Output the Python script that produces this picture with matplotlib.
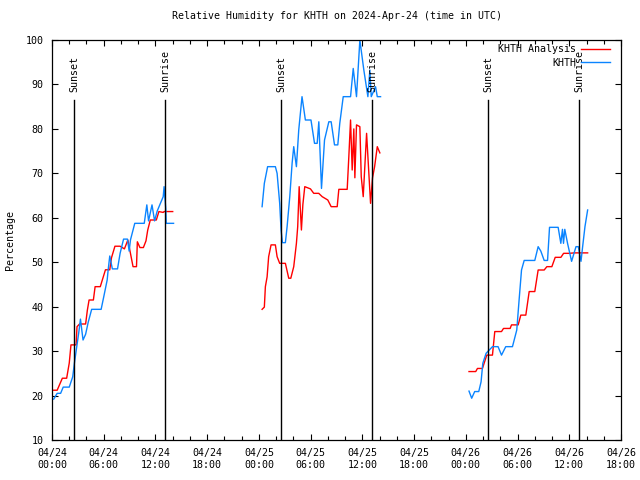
import matplotlib
matplotlib.use("Agg")
import matplotlib.pyplot as plt
import matplotlib.dates as mdates
import pandas as pd

# hours after 2024-04-24 00:00 UTC, relative humidity (%)
base = pd.Timestamp("2024-04-24 00:00")

analysis_hours = [
    [0.2, 0.6, 1.2, 1.7, 2.0, 2.2, 2.8, 2.9, 3.2, 3.9, 4.1, 4.3, 4.8, 5.0, 5.6, 5.9,
     6.2, 6.7, 6.9, 7.3, 7.9, 8.4, 8.8, 9.4, 9.8, 9.9, 10.2, 10.6, 10.9, 11.1, 11.4,
     12.1, 12.4, 12.9, 13.0, 14.0],
    [24.37, 24.63, 24.75, 24.95, 25.13, 25.41, 25.91, 26.11, 26.41, 27.07, 27.46, 27.7,
     28.04, 28.35, 28.5, 28.67, 28.93, 29.1, 29.32, 29.98, 30.36, 30.94, 31.34, 31.99,
     32.38, 33.08, 33.27, 34.24, 34.43, 34.63, 34.82, 35.01, 35.13, 35.32, 35.71, 35.87,
     36.1, 36.49, 36.95, 37.18, 37.42, 37.73, 38.03],
    [48.37, 49.15, 49.35, 49.93, 50.12, 50.43, 51.09, 51.36, 52.14, 52.37, 53.14, 53.3,
     54.07, 54.38, 54.96, 55.35, 56.0, 56.39, 57.09, 57.4, 57.98, 58.37, 59.03, 59.34,
     59.99, 60.57, 62.13],
]
analysis_rh = [
    [21.2, 21.2, 23.9, 23.9, 27.3, 31.4, 31.4, 35.5, 36.1, 36.1, 39.2, 41.5, 41.5, 44.5,
     44.5, 46.4, 48.3, 48.3, 51.0, 53.6, 53.6, 53.0, 55.0, 49.0, 49.0, 54.6, 53.3, 53.3,
     54.8, 57.2, 59.5, 59.5, 61.4, 61.2, 61.4, 61.4],
    [39.4, 39.9, 44.5, 46.7, 51.25, 53.9, 53.9, 51.25, 49.75, 49.75, 46.4, 46.4, 49.0,
     54.25, 58.0, 67.0, 57.25, 63.0, 67.0, 66.5, 65.5, 65.5, 64.75, 64.0, 62.5, 62.5,
     66.4, 66.4, 73.75, 82.0, 70.75, 80.0, 69.0, 80.9, 80.5, 69.25, 64.75, 79.0, 63.25,
     69.0, 71.5, 76.0, 74.6],
    [25.4, 25.4, 26.1, 26.1, 27.25, 29.1, 29.1, 34.4, 34.4, 35.1, 35.1, 35.9, 35.9, 38.1,
     38.1, 43.4, 43.4, 48.25, 48.25, 49.0, 49.0, 51.1, 51.1, 52.0, 52.0, 52.1, 52.1],
]

station_hours = [
    [0.2, 0.6, 1.0, 1.3, 2.0, 2.4, 2.6, 2.9, 3.1, 3.3, 3.6, 3.9, 4.2, 4.6, 5.7, 6.0,
     6.4, 6.5, 6.7, 7.0, 7.6, 7.9, 8.3, 8.75, 8.95, 9.1, 9.6, 10.7, 11.0, 11.2, 11.6,
     11.9, 12.2, 12.5, 12.9, 13.0, 13.2, 13.25, 14.1],
    [24.37, 24.63, 25.01, 25.91, 26.11, 26.41, 26.57, 26.73, 27.07, 27.27, 27.58, 27.85,
     28.04, 28.35, 28.62, 29.0, 29.39, 30.04, 30.45, 30.76, 30.95, 31.26, 31.61, 32.11,
     32.38, 32.77, 33.15, 33.38, 33.78, 34.63, 34.94, 35.32, 35.71, 36.17, 36.64, 36.87,
     37.03, 37.53, 37.73, 38.11],
    [48.37, 48.68, 49.03, 49.5, 49.77, 49.97, 50.35, 51.09, 51.74, 52.14, 52.63, 53.41,
     53.91, 54.18, 54.46, 54.77, 56.0, 56.39, 56.7, 57.09, 57.48, 57.71, 58.71, 59.02,
     59.21, 59.33, 59.48, 59.8, 60.27, 60.78, 61.05, 61.36, 61.55, 61.82, 62.13],
]
station_rh = [
    [19.2, 20.5, 20.5, 21.9, 21.9, 24.2, 27.3, 31.4, 34.1, 37.2, 32.5, 33.8, 36.5, 39.4,
     39.4, 42.2, 46.0, 48.0, 51.4, 48.5, 48.5, 52.0, 55.2, 55.2, 52.5, 55.0, 58.75, 58.75,
     62.9, 59.3, 62.9, 59.3, 61.5, 62.9, 64.75, 67.0, 62.0, 58.75, 58.75],
    [62.5, 67.75, 71.5, 71.5, 70.0, 63.25, 57.25, 54.4, 54.4, 58.0, 64.75, 72.25, 76.0,
     71.5, 79.75, 87.25, 82.0, 82.0, 76.75, 76.75, 81.6, 66.6, 77.5, 81.6, 81.6, 76.4,
     76.4, 81.25, 87.25, 87.25, 93.6, 87.25, 100.0, 93.25, 87.25, 93.25, 87.25, 89.5,
     87.25, 87.25],
    [21.0, 19.4, 20.9, 20.9, 23.1, 27.25, 29.5, 31.0, 31.0, 29.1, 31.0, 31.0, 34.75, 41.5,
     48.25, 50.4, 50.4, 53.5, 52.5, 50.4, 50.4, 57.85, 57.85, 54.25, 57.4, 54.25, 57.4,
     54.25, 50.2, 53.5, 53.5, 50.2, 53.5, 58.0, 61.75],
]

sunset = ["2024-04-24 02:33", "2024-04-25 02:35", "2024-04-26 02:36"]
sunrise = ["2024-04-24 13:09", "2024-04-25 13:08", "2024-04-26 13:07"]

font = "DejaVu Sans Mono"
plt.rcParams["font.family"] = font
plt.rcParams["font.size"] = 7.2

fig = plt.figure(figsize=(6.4, 4.8), dpi=100)
ax = fig.add_axes([52 / 640, 40 / 480, 569 / 640, 400 / 480])

red = "#ff0000"
blue = "#0a84ff"
for i in range(3):
    t = base + pd.to_timedelta(analysis_hours[i], unit="h")
    ax.plot(t, analysis_rh[i], color=red, lw=1.0,
            label="KHTH Analysis" if i == 0 else None)
for i in range(3):
    t = base + pd.to_timedelta(station_hours[i], unit="h")
    ax.plot(t, station_rh[i], color=blue, lw=1.0,
            label="KHTH" if i == 0 else None)

for s in sunset:
    ts = pd.Timestamp(s)
    ax.plot([ts, ts], [10, 86.5], color="black", lw=1.0)
    ax.text(ts, 88.2, "Sunset", rotation=90, ha="center", va="bottom")
for s in sunrise:
    ts = pd.Timestamp(s)
    ax.plot([ts, ts], [10, 86.5], color="black", lw=1.0)
    ax.text(ts, 88.2, "Sunrise", rotation=90, ha="center", va="bottom")

ax.set_xlim(base, base + pd.Timedelta(hours=66))
ax.set_ylim(10, 100)
ax.set_yticks(range(10, 101, 10))
ax.xaxis.set_major_locator(mdates.HourLocator(byhour=[0, 6, 12, 18]))
ax.xaxis.set_major_formatter(mdates.DateFormatter("%m/%d\n%H:%M"))
ax.xaxis.set_minor_locator(mdates.HourLocator(interval=2))
ax.tick_params(which="both", direction="in", top=True, right=True, width=0.8)
ax.tick_params(which="major", length=4, pad=6)
ax.tick_params(which="minor", length=3)
for sp in ax.spines.values():
    sp.set_linewidth(0.9)

ax.set_ylabel("Percentage", labelpad=8)
ax.set_title("Relative Humidity for KHTH on 2024-Apr-24 (time in UTC)",
             fontsize=7.1, pad=15)

ax.legend(loc="upper right", frameon=False, markerfirst=False, handlelength=2.9,
          borderaxespad=0.2, labelspacing=0.35, handletextpad=0.5,
          bbox_to_anchor=(1 - 5 / 569, 1 + 2 / 400))

fig.savefig("out.png", dpi=100)
